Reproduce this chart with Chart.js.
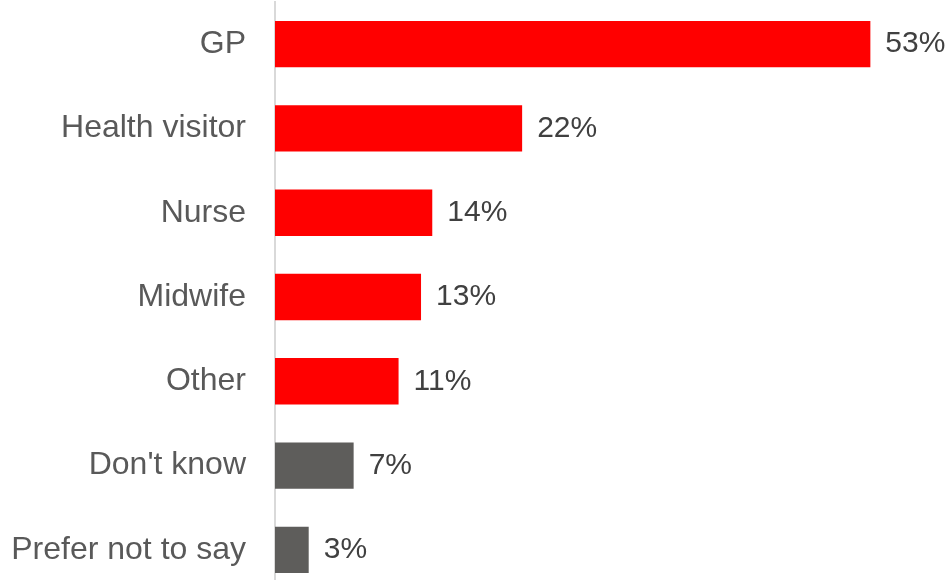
<!DOCTYPE html>
<html>
<head>
<meta charset="utf-8">
<script src="https://cdn.jsdelivr.net/npm/chart.js@4/dist/chart.umd.min.js"></script>
<style>
  html, body { margin: 0; padding: 0; background: #fff; overflow: hidden; }
  #wrap { position: relative; width: 949px; height: 592px; }
</style>
</head>
<body>
<div id="wrap"><canvas id="grafico"></canvas></div>
<script>
// Datos
const categorias = ['GP', 'Health visitor', 'Nurse', 'Midwife', 'Other', "Don't know", 'Prefer not to say'];
const valores = [53, 22, 14, 13, 11, 7, 3];
const colores = ['#ff0000', '#ff0000', '#ff0000', '#ff0000', '#ff0000', '#5e5d5b', '#5e5d5b'];
const ejeMax = 60;

// Etiquetas de valor a la derecha de cada barra
const etiquetasValor = {
    id: 'etiquetasValor',
    afterDatasetsDraw(chart) {
        const ctx = chart.ctx;
        const meta = chart.getDatasetMeta(0);
        ctx.save();
        ctx.font = '30px "Liberation Sans", Arial, sans-serif';
        ctx.fillStyle = '#404040';
        ctx.textAlign = 'left';
        ctx.textBaseline = 'middle';
        meta.data.forEach((barra, i) => {
            ctx.fillText(valores[i] + '%', barra.x + 15, barra.y);
        });
        ctx.restore();
    }
};

new Chart(document.getElementById('grafico'), {
    type: 'bar',
    data: {
        labels: categorias,
        datasets: [{
            data: valores,
            backgroundColor: colores,
            borderWidth: 0,
            categoryPercentage: 1,
            barPercentage: 0.55
        }]
    },
    options: {
        indexAxis: 'y',
        responsive: true,
        maintainAspectRatio: false,
        animation: false,
        layout: { padding: { top: 2, right: 0, bottom: 0, left: 0 } },
        plugins: {
            legend: { display: false },
            tooltip: { enabled: false }
        },
        scales: {
            x: {
                display: false,
                min: 0,
                max: ejeMax
            },
            y: {
                // ancho fijo del eje y sin relleno extra arriba/abajo
                afterFit(scale) {
                    scale.width = 275;
                    scale.paddingTop = 0;
                    scale.paddingBottom = 0;
                },
                grid: { display: false, drawTicks: false },
                border: { display: true, color: '#d9d9d9', width: 2 },
                ticks: {
                    padding: 29,
                    color: '#595959',
                    font: { family: '"Liberation Sans", Arial, sans-serif', size: 32 }
                }
            }
        }
    },
    plugins: [etiquetasValor]
});
</script>
</body>
</html>
